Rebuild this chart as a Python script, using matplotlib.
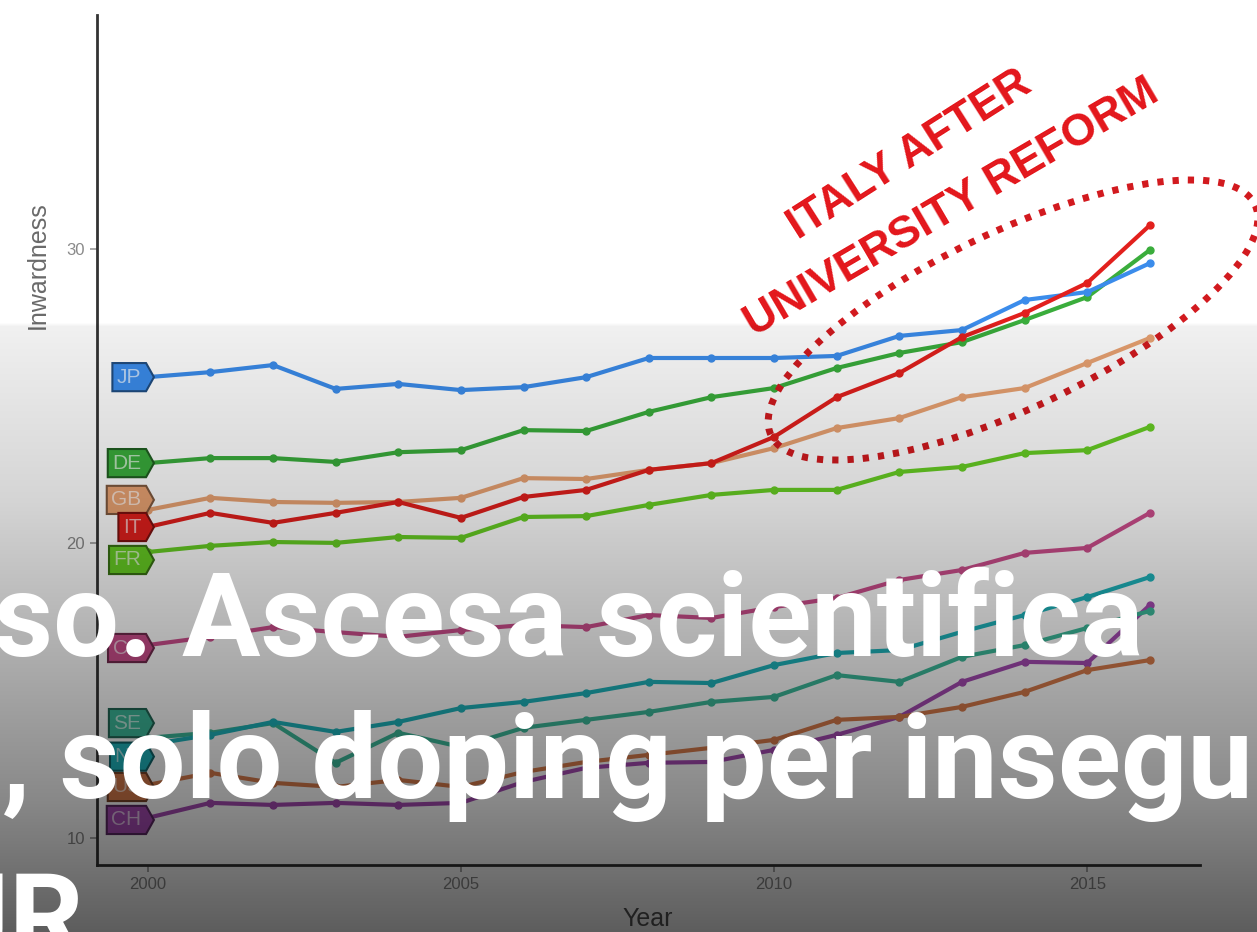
import numpy as np
import matplotlib
matplotlib.use("Agg")
import matplotlib.pyplot as plt
from matplotlib.patches import Ellipse
from matplotlib.path import Path
from matplotlib.transforms import IdentityTransform
from matplotlib.colors import to_rgb

# inwardness by country, 2000-2016
years = list(range(2000, 2017))
JP = [25.65, 25.82, 26.06, 25.25, 25.42, 25.21, 25.31, 25.65, 26.30, 26.30, 26.30, 26.37, 27.05, 27.25, 28.27, 28.54, 29.52]
DE = [22.73, 22.90, 22.90, 22.77, 23.10, 23.17, 23.85, 23.82, 24.47, 24.97, 25.28, 25.96, 26.47, 26.84, 27.59, 28.37, 29.97]
GB = [21.14, 21.55, 21.41, 21.38, 21.41, 21.55, 22.22, 22.19, 22.50, 22.73, 23.24, 23.92, 24.26, 24.97, 25.28, 26.13, 26.98]
IT = [20.56, 21.04, 20.70, 21.04, 21.41, 20.87, 21.58, 21.82, 22.50, 22.73, 23.62, 24.97, 25.79, 27.01, 27.83, 28.85, 30.81]
FR = [19.71, 19.92, 20.05, 20.02, 20.22, 20.19, 20.90, 20.93, 21.31, 21.65, 21.82, 21.82, 22.43, 22.60, 23.07, 23.17, 23.96]
CA = [16.55, 16.83, 17.16, 16.99, 16.83, 17.06, 17.23, 17.16, 17.57, 17.47, 17.84, 18.15, 18.76, 19.10, 19.68, 19.85, 21.04]
SE = [13.40, 13.57, 13.90, 12.55, 13.57, 13.09, 13.74, 14.01, 14.28, 14.62, 14.79, 15.53, 15.30, 16.15, 16.55, 17.13, 17.71]
NL = [13.16, 13.50, 13.94, 13.60, 13.94, 14.41, 14.62, 14.92, 15.30, 15.26, 15.87, 16.28, 16.38, 17.00, 17.57, 18.18, 18.86]
US = [11.80, 12.21, 11.87, 11.73, 11.97, 11.73, 12.24, 12.58, 12.82, 13.06, 13.33, 14.01, 14.11, 14.45, 14.96, 15.70, 16.04]
CH = [10.68, 11.19, 11.12, 11.19, 11.12, 11.19, 11.90, 12.38, 12.55, 12.58, 12.99, 13.50, 14.11, 15.30, 15.98, 15.94, 17.91]

codes = ["CH", "US", "SE", "NL", "CA", "FR", "GB", "DE", "JP", "IT"]
series = [CH, US, SE, NL, CA, FR, GB, DE, JP, IT]
colors = ["#a64bb3", "#d97c4c", "#3dbb9c", "#1fb6be", "#cf4f8e",
          "#68cf24", "#e9a272", "#3aad3c", "#3b8ceb", "#e2201d"]
# small vertical nudges so the tags do not sit on each other
nudge = [-0.07, -0.07, 0.5, -0.4, -0.1, -0.27, 0.34, 0.0, 0.0, 0.0]

W, H = 1257, 932
fig = plt.figure(figsize=(W / 100, H / 100), dpi=100)
fig.patch.set_facecolor("white")
ax = fig.add_axes([97 / W, 1 - 865 / H, (1200 - 97) / W, (865 - 15) / H], zorder=1)


def tag_box(x0, y0, width, height, mutation_size):
    pad = 0.22 * mutation_size
    x0 -= pad
    y0 -= pad
    w = width + 2 * pad
    h = height + 2 * pad
    tip = h * 0.28
    verts = [(x0, y0), (x0 + w, y0), (x0 + w + tip, y0 + h / 2),
             (x0 + w, y0 + h), (x0, y0 + h), (x0, y0)]
    return Path(verts, closed=True)


for code, vals, col, dy in zip(codes, series, colors, nudge):
    ax.plot(years, vals, color=col, lw=3.0, marker="o", ms=5, solid_capstyle="round")
    rgb = np.array(to_rgb(col))
    light = tuple(rgb * 0.35 + 0.65)
    dark = tuple(rgb * 0.55)
    ax.text(1999.9, vals[0] + dy, code, ha="right", va="center", fontsize=15,
            color=light, family="Liberation Sans",
            bbox=dict(boxstyle=tag_box, fc=col, ec=dark, lw=1.5))

ax.set_xlim(1999.19, 2016.8)
ax.set_ylim(9.08, 37.95)
ax.set_xticks([2000, 2005, 2010, 2015])
ax.set_yticks([10, 20, 30])
ax.tick_params(colors="#9a9a9a", labelcolor="#8a8a8a", length=5, width=1.2, labelsize=12)
for lab in ax.get_xticklabels() + ax.get_yticklabels():
    lab.set_family("Liberation Sans")
for s in ["top", "right"]:
    ax.spines[s].set_visible(False)
for s in ["left", "bottom"]:
    ax.spines[s].set_linewidth(2)
    ax.spines[s].set_color("#333333")

fig.text(38 / W, 1 - 265 / H, "Inwardness", rotation=90, ha="center", va="center",
         fontsize=18, color="#6a6a6a", family="Liberation Sans")
fig.text(648 / W, 1 - 919 / H, "Year", ha="center", va="center",
         fontsize=18, color="#555555", family="Liberation Sans")

# red hand-drawn annotation
red = "#e3161b"
fig.text(910 / W, 1 - 155 / H, "ITALY AFTER", rotation=32.5, rotation_mode="anchor",
         ha="center", va="center", color=red, fontsize=32, fontweight="bold",
         family="Liberation Sans")
fig.text(952 / W, 1 - 208 / H, "UNIVERSITY REFORM", rotation=30.3, rotation_mode="anchor",
         ha="center", va="center", color=red, fontsize=32, fontweight="bold",
         family="Liberation Sans")
fig.add_artist(Ellipse((1013, H - 320), 2 * 268, 2 * 88, angle=25.5,
                       transform=IdentityTransform(), fill=False, ec="#d21a1f",
                       lw=5, ls=(0, (0.9, 1.3)), zorder=4))

# darkening band over the lower part of the frame
ov = fig.add_axes([0, 0, 1, 1], zorder=5)
ov.set_axis_off()
rows = np.arange(H)
alpha = np.interp(rows, [0, 322, 326, 500, 600, 700, 800, 870, H],
                  [0, 0, 0.06, 0.17, 0.27, 0.37, 0.47, 0.56, 0.64])
img = np.zeros((H, 1, 4))
img[..., 3] = alpha[:, None]
ov.imshow(img, aspect="auto", extent=[0, 1, 0, 1], origin="upper", interpolation="bilinear")
ov.set_xlim(0, 1)
ov.set_ylim(0, 1)

# caption text in white
cap = dict(fontsize=84, fontweight="bold", family="Roboto", color="white",
           va="baseline", zorder=10)
fig.text(-7 / W, 1 - 656 / H, "so. Ascesa scientifica", ha="left", **cap)
fig.text(-64 / W, 1 - 798 / H, "o, solo doping per inseguire", ha="left", **cap)
fig.text(84 / W, 1 - 957 / H, "MIUR", ha="right", **cap)

fig.savefig("out.png", dpi=100)
